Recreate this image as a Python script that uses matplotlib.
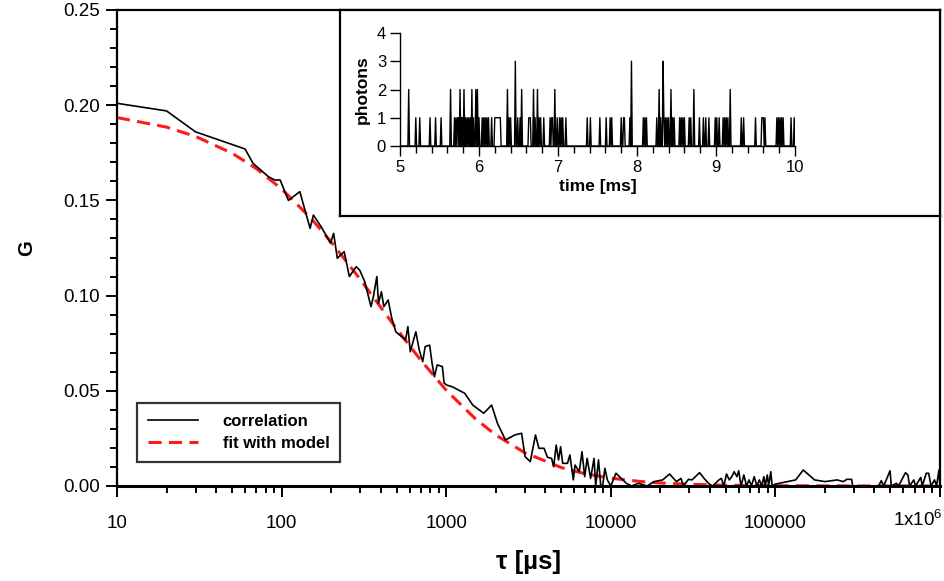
import numpy as np
import matplotlib
matplotlib.use("Agg")
import matplotlib.pyplot as plt
from matplotlib.ticker import LogLocator, MultipleLocator, NullFormatter, FuncFormatter

plt.rcParams["font.family"] = ["Liberation Sans", "DejaVu Sans"]
plt.rcParams["mathtext.default"] = "regular"

# ---- correlation curve G(tau) ----
tau = [10, 20, 30, 60, 67, 83, 91, 98, 110, 129, 149, 156, 175, 198, 207, 218, 240,
       258, 284, 298, 320, 349, 361, 379, 388, 404, 418, 444, 467, 494, 566, 585,
       605, 654, 686, 720, 745, 793, 821, 848, 882, 948, 971, 1009, 1096, 1295,
       1450, 1690, 1888, 2049, 2291, 2610, 2871, 3015, 3243, 3486, 3658, 3930,
       4124, 4369, 4497, 4657, 4813, 4955, 5100, 5458, 5641, 5919, 6063, 6430,
       6683, 6940, 7184, 7540, 7910, 8096, 8418, 8710, 8950, 9210, 9528, 10000,
       10750, 12430, 13360, 14720, 16600, 18300, 20650, 22750, 25060, 26700,
       27600, 29650, 31130, 34640, 36880, 39650, 41610, 45390, 46950, 48560,
       50470, 52470, 54300, 56150, 58380, 59830, 61850, 64300, 66830, 69180,
       71500, 74340, 77270, 79900, 82640, 85100, 86700, 89300, 91000, 93750,
       95600, 100000, 132800, 147700, 173000, 200300, 237000, 258500, 271500,
       290400, 294600, 423300, 440000, 455000, 497000, 506000, 544000, 560000,
       617000, 638000, 654000, 693000, 710000, 764000, 780000, 825000, 853000,
       883000, 926000, 953000, 986000, 1000000]
G = [0.201, 0.197, 0.186, 0.177, 0.1695, 0.1625, 0.1607, 0.1607, 0.150, 0.1546,
     0.1353, 0.1423, 0.1358, 0.1275, 0.1327, 0.1196, 0.1231, 0.110, 0.1152,
     0.1134, 0.1073, 0.0942, 0.0994, 0.110, 0.096, 0.102, 0.0942, 0.0977,
     0.0881, 0.081, 0.0767, 0.0837, 0.0705, 0.081, 0.0714, 0.0653, 0.0732,
     0.074, 0.0644, 0.0574, 0.0636, 0.0627, 0.054, 0.053, 0.052, 0.0487,
     0.0425, 0.0382, 0.0425, 0.0329, 0.0242, 0.0268, 0.0277, 0.0154, 0.0128,
     0.0268, 0.0198, 0.0198, 0.0151, 0.0145, 0.0101, 0.0215, 0.0137, 0.0206,
     0.0119, 0.0119, 0.0163, 0.0032, 0.011, 0.0075, 0.018, 0.0049, 0.0145,
     0.004, 0.0145, 0.0, 0.0137, -0.001, 0.001, 0.0093, 0.0032, 0.0, 0.0067,
     0.0014, 0.0, 0.0014, 0.0, 0.0023, 0.0032, 0.0063, 0.0023, 0.004, 0.0,
     0.0035, 0.0032, 0.007, 0.004, 0.001, 0.0, 0.0032, 0.004, 0.0, 0.0063,
     0.0032, 0.0049, 0.0075, 0.0049, 0.008, 0.0, 0.0058, 0.0, 0.0032, 0.0,
     0.0049, 0.0, 0.0032, 0.0, 0.0049, 0.0, 0.0058, 0.0, 0.0075, 0.0, 0.001,
     0.0032, 0.0084, 0.0032, 0.0023, 0.0032, 0.0023, 0.0035, 0.0035, 0.0, 0.0,
     0.0028, 0.0, 0.008, 0.0, 0.0014, 0.0, 0.007, 0.0058, 0.0, 0.0032, 0.0,
     0.0045, 0.0, 0.0067, 0.0067, 0.0, 0.0032, 0.0, 0.0084, 0.0]

# ---- model fit ----
tau_fit = [10, 20, 30, 50, 70, 100, 150, 200, 300, 400, 500, 700, 1000, 1500,
           2000, 3000, 5000, 7000, 10000, 15000, 20000, 30000, 50000, 100000,
           200000, 500000, 1000000]
G_fit = [0.1935, 0.1885, 0.1836, 0.1748, 0.1668, 0.1560, 0.1408, 0.1282, 0.1086,
         0.0939, 0.0825, 0.0661, 0.0503, 0.0354, 0.0268, 0.0175, 0.0097, 0.0064,
         0.0041, 0.0024, 0.0016, 0.0009, 0.0004, 0.00015, 0.00006, 0.00001, 0.0]

# ---- photon trace (inset): bin times in ms with counts ----
photon_t = [5.11, 5.20, 5.25, 5.38, 5.45, 5.52, 5.64, 5.69, 5.71, 5.73, 5.74, 5.76,
            5.78, 5.79, 5.81, 5.83, 5.85, 5.87, 5.89, 5.91, 5.93, 5.96, 5.98, 6.00,
            6.04, 6.06, 6.08, 6.10, 6.12, 6.16, 6.20, 6.21, 6.22, 6.23, 6.24, 6.25,
            6.26, 6.27, 6.36, 6.38, 6.40, 6.46, 6.49, 6.52, 6.54, 6.63, 6.64, 6.65,
            6.69, 6.71, 6.74, 6.76, 6.78, 6.82, 6.90, 6.92, 6.93, 6.96, 6.99, 7.02,
            7.04, 7.06, 7.10, 7.37, 7.41, 7.53, 7.61, 7.66, 7.68, 7.80, 7.83, 7.84,
            7.91, 7.93, 8.08, 8.10, 8.12, 8.25, 8.28, 8.30, 8.33, 8.34, 8.36, 8.38,
            8.40, 8.43, 8.45, 8.47, 8.54, 8.56, 8.58, 8.60, 8.66, 8.68, 8.72, 8.79,
            8.84, 8.87, 8.91, 8.99, 9.01, 9.04, 9.09, 9.11, 9.13, 9.15, 9.18, 9.32,
            9.35, 9.50, 9.58, 9.59, 9.60, 9.62, 9.77, 9.79, 9.81, 9.83, 9.85, 9.95,
            9.99]
photon_n = [2, 1, 1, 1, 1, 1, 2, 1, 1, 1, 1, 2,
            1, 1, 2, 1, 1, 1, 1, 2, 1, 2, 2, 1,
            1, 1, 1, 1, 1, 1, 1, 1, 1, 1, 1, 1,
            1, 1, 2, 1, 1, 3, 1, 1, 2, 1, 1, 1,
            2, 1, 2, 1, 1, 1, 1, 1, 1, 2, 1, 1,
            1, 1, 1, 1, 1, 1, 1, 1, 1, 1, 1, 1,
            1, 3, 1, 1, 1, 1, 2, 1, 3, 1, 1, 1,
            1, 2, 1, 1, 1, 1, 1, 1, 1, 1, 2, 1,
            1, 1, 1, 1, 1, 1, 1, 1, 1, 1, 2, 1,
            1, 1, 1, 1, 1, 1, 1, 1, 1, 1, 1, 1,
            1]
BIN_MS = 0.01

W, H = 944, 581
fig = plt.figure(figsize=(W / 100, H / 100), dpi=100)


def px_rect(x0, y0, x1, y1):
    return [x0 / W, 1 - y1 / H, (x1 - x0) / W, (y1 - y0) / H]


# ---------------- main axes ----------------
ax = fig.add_axes(px_rect(117, 10, 940, 486))
ax.plot(tau, G, color="black", lw=1.2, label="correlation", zorder=3)
ax.plot(tau_fit, G_fit, color="#ff1a1a", lw=2.2, ls=(0, (4.3, 2.4)),
        label="fit with model", zorder=2)
ax.set_xscale("log")
ax.set_xlim(10, 1e6)
ax.set_ylim(0, 0.25)
for s in ax.spines.values():
    s.set_linewidth(1.6)
ax.spines["bottom"].set_linewidth(2.2)

ax.xaxis.set_major_locator(LogLocator(base=10, numticks=10))
ax.xaxis.set_minor_locator(LogLocator(base=10, subs=np.arange(2, 10), numticks=50))
ax.xaxis.set_minor_formatter(NullFormatter())
# the last label sits shifted left so it stays inside the picture
ax.xaxis.set_major_formatter(FuncFormatter(
    lambda v, _: "" if v >= 1e6 else f"{int(round(v))}"))
ax.annotate(r"1x10$^{6}$", xy=(1e6, 0), xycoords=("data", "axes fraction"),
            xytext=(-22, -34), textcoords="offset pixels",
            ha="center", va="center", fontsize=13.5)

ax.yaxis.set_major_locator(MultipleLocator(0.05))
ax.yaxis.set_minor_locator(MultipleLocator(0.01))
ax.yaxis.set_major_formatter(FuncFormatter(lambda v, _: f"{v:.2f}"))
ax.tick_params(which="both", direction="out", top=False, right=False,
               labelsize=13.5, width=1.4)
ax.tick_params(which="major", length=8, pad=4)
ax.tick_params(which="minor", length=5)
ax.tick_params(axis="x", pad=13)
ax.set_xlabel("τ [µs]", fontsize=18.5, fontweight="bold", labelpad=13)
ax.set_ylabel("G", fontsize=14.5, fontweight="bold", labelpad=20)

leg = ax.legend(loc="lower left", bbox_to_anchor=(20 / 823, 24 / 476),
                borderaxespad=0, fancybox=False, frameon=True, handlelength=3.0,
                handletextpad=1.5, borderpad=0.65, labelspacing=0.45,
                prop={"weight": "bold", "size": 12})
leg.get_frame().set_edgecolor("black")
leg.get_frame().set_linewidth(1.6)

# ---------------- inset frame ----------------
box = fig.add_axes(px_rect(340, 10, 940, 216))
box.set_xticks([])
box.set_yticks([])
for s in box.spines.values():
    s.set_linewidth(1.6)
box.set_zorder(5)

ins = fig.add_axes(px_rect(400, 33, 795, 146))
ins.set_zorder(6)
ins.patch.set_alpha(0)
t_grid = np.round(np.arange(5.0, 10.0 + BIN_MS / 2, BIN_MS), 2)
counts = np.zeros_like(t_grid)
counts[np.rint((np.array(photon_t) - 5.0) / BIN_MS).astype(int)] = photon_n
ins.plot(t_grid, counts, color="black", lw=1.0)
ins.set_xlim(5, 10)
ins.set_ylim(0, 4)
ins.spines["top"].set_visible(False)
ins.spines["right"].set_visible(False)
for s in ("left", "bottom"):
    ins.spines[s].set_linewidth(1.0)
ins.xaxis.set_major_locator(MultipleLocator(1))
ins.xaxis.set_minor_locator(MultipleLocator(0.2))
ins.yaxis.set_major_locator(MultipleLocator(1))
ins.tick_params(which="both", direction="out", labelsize=12, width=1.0)
ins.tick_params(which="major", length=7, pad=3)
ins.tick_params(which="minor", length=5)
ins.set_xlabel("time [ms]", fontsize=12.5, fontweight="bold", labelpad=3)
ins.set_ylabel("photons", fontsize=12.5, fontweight="bold", labelpad=5)

fig.savefig("out.png", dpi=100)
